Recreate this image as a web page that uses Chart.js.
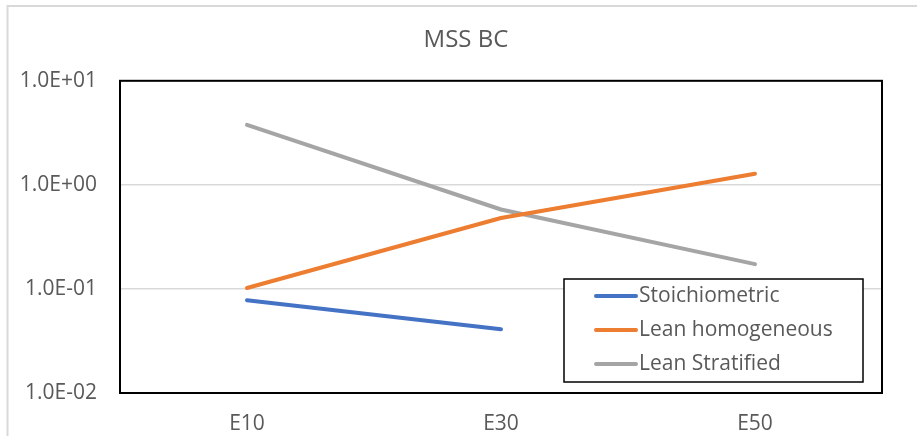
<!DOCTYPE html>
<html>
<head>
<meta charset="utf-8">
<script src="https://cdn.jsdelivr.net/npm/chart.js@4"></script>
<style>
  html, body { margin: 0; padding: 0; background: #fff; }
  #wrap { width: 917px; height: 436px; position: relative; }
</style>
</head>
<body>
<div id="wrap"><canvas id="c" width="917" height="436"></canvas></div>
<script>
// Categories and series (BC emissions, log scale)
const categories = ['E10', 'E30', 'E50'];
const stoichiometric = [0.078, 0.041, null];
const leanHomogeneous = [0.102, 0.48, 1.28];
const leanStratified = [3.77, 0.58, 0.173];
const yTickValues = [0.01, 0.1, 1, 10];

const TEXT = '#595959';
const FONT = '"Open Sans", "Liberation Sans", sans-serif';

// 1.0E+01 style labels
function sci(v) {
  const [m, e] = v.toExponential(1).split('e');
  const n = parseInt(e, 10);
  const sign = n < 0 ? '-' : '+';
  return m + 'E' + sign + String(Math.abs(n)).padStart(2, '0');
}

// Outer frame and plot border
const framePlugin = {
  id: 'frame',
  beforeDraw(chart) {
    const ctx = chart.ctx;
    ctx.save();
    ctx.fillStyle = '#fff';
    ctx.fillRect(0, 0, chart.width, chart.height);
    ctx.strokeStyle = '#d9d9d9';
    ctx.lineWidth = 2;
    ctx.beginPath();
    ctx.moveTo(7.5, chart.height);
    ctx.lineTo(7.5, 6);
    ctx.lineTo(chart.width, 6);
    ctx.stroke();
    ctx.restore();
  },
  afterDatasetsDraw(chart) {
    const a = chart.chartArea;
    const ctx = chart.ctx;
    ctx.save();
    ctx.strokeStyle = '#000';
    ctx.lineWidth = 2;
    ctx.strokeRect(a.left, a.top, a.right - a.left, a.bottom - a.top);
    ctx.restore();
  }
};

// Boxed legend placed inside the plot area, lower right
const boxLegend = {
  id: 'boxLegend',
  afterDraw(chart) {
    const a = chart.chartArea;
    const ctx = chart.ctx;
    const w = 299, h = 103;
    const x = a.right - 19 - w;
    const y = a.bottom - 11 - h;
    ctx.save();
    ctx.fillStyle = '#fff';
    ctx.fillRect(x, y, w, h);
    ctx.strokeStyle = '#000';
    ctx.lineWidth = 1.5;
    ctx.strokeRect(x, y, w, h);
    ctx.font = '21px ' + FONT;
    ctx.textBaseline = 'middle';
    ctx.textAlign = 'left';
    chart.data.datasets.forEach((ds, i) => {
      const cy = y + 17 + i * 34;
      ctx.strokeStyle = ds.borderColor;
      ctx.lineWidth = 4;
      ctx.lineCap = 'round';
      ctx.beginPath();
      ctx.moveTo(x + 32, cy);
      ctx.lineTo(x + 72, cy);
      ctx.stroke();
      ctx.fillStyle = TEXT;
      ctx.fillText(ds.label, x + 75, cy);
    });
    ctx.restore();
  }
};

function lineDs(label, data, color) {
  return {
    label, data,
    borderColor: color,
    backgroundColor: color,
    borderWidth: 4,
    borderCapStyle: 'round',
    borderJoinStyle: 'round',
    pointRadius: 0,
    pointHoverRadius: 0,
    tension: 0,
    spanGaps: false,
    yAxisID: 'y'
  };
}

new Chart(document.getElementById('c'), {
  type: 'line',
  data: {
    labels: categories,
    datasets: [
      lineDs('Stoichiometric', stoichiometric, '#4472C4'),
      lineDs('Lean homogeneous', leanHomogeneous, '#ED7D31'),
      lineDs('Lean Stratified', leanStratified, '#A5A5A5')
    ]
  },
  options: {
    responsive: false,
    animation: false,
    layout: { padding: { left: 15, right: 0, top: 26, bottom: 0 } },
    plugins: {
      legend: { display: false },
      tooltip: { enabled: false },
      title: {
        display: true,
        text: 'MSS BC',
        color: TEXT,
        font: { family: FONT, size: 24, weight: 'normal' },
        padding: { top: 0, bottom: 26 }
      }
    },
    scales: {
      x: {
        type: 'category',
        offset: true,
        grid: { display: false, drawTicks: false },
        border: { display: false },
        ticks: { color: TEXT, font: { family: FONT, size: 21 }, padding: 18, maxRotation: 0 },
        afterFit(s) { s.height = 43; }
      },
      y: {
        type: 'logarithmic',
        min: 0.01,
        max: 10,
        afterBuildTicks(s) { s.ticks = yTickValues.map(v => ({ value: v })); },
        grid: { color: '#d9d9d9', lineWidth: 1.5, drawTicks: false },
        border: { display: false },
        ticks: {
          color: TEXT,
          font: { family: FONT, size: 21 },
          padding: 23,
          callback: (v) => sci(v)
        },
        afterFit(s) { s.width = 105; }
      },
      // empty right-hand margin axis
      yRight: {
        type: 'linear',
        position: 'right',
        grid: { display: false, drawTicks: false },
        border: { display: false },
        ticks: { display: false },
        afterFit(s) { s.width = 35; }
      }
    }
  },
  plugins: [framePlugin, boxLegend]
});
</script>
</body>
</html>
